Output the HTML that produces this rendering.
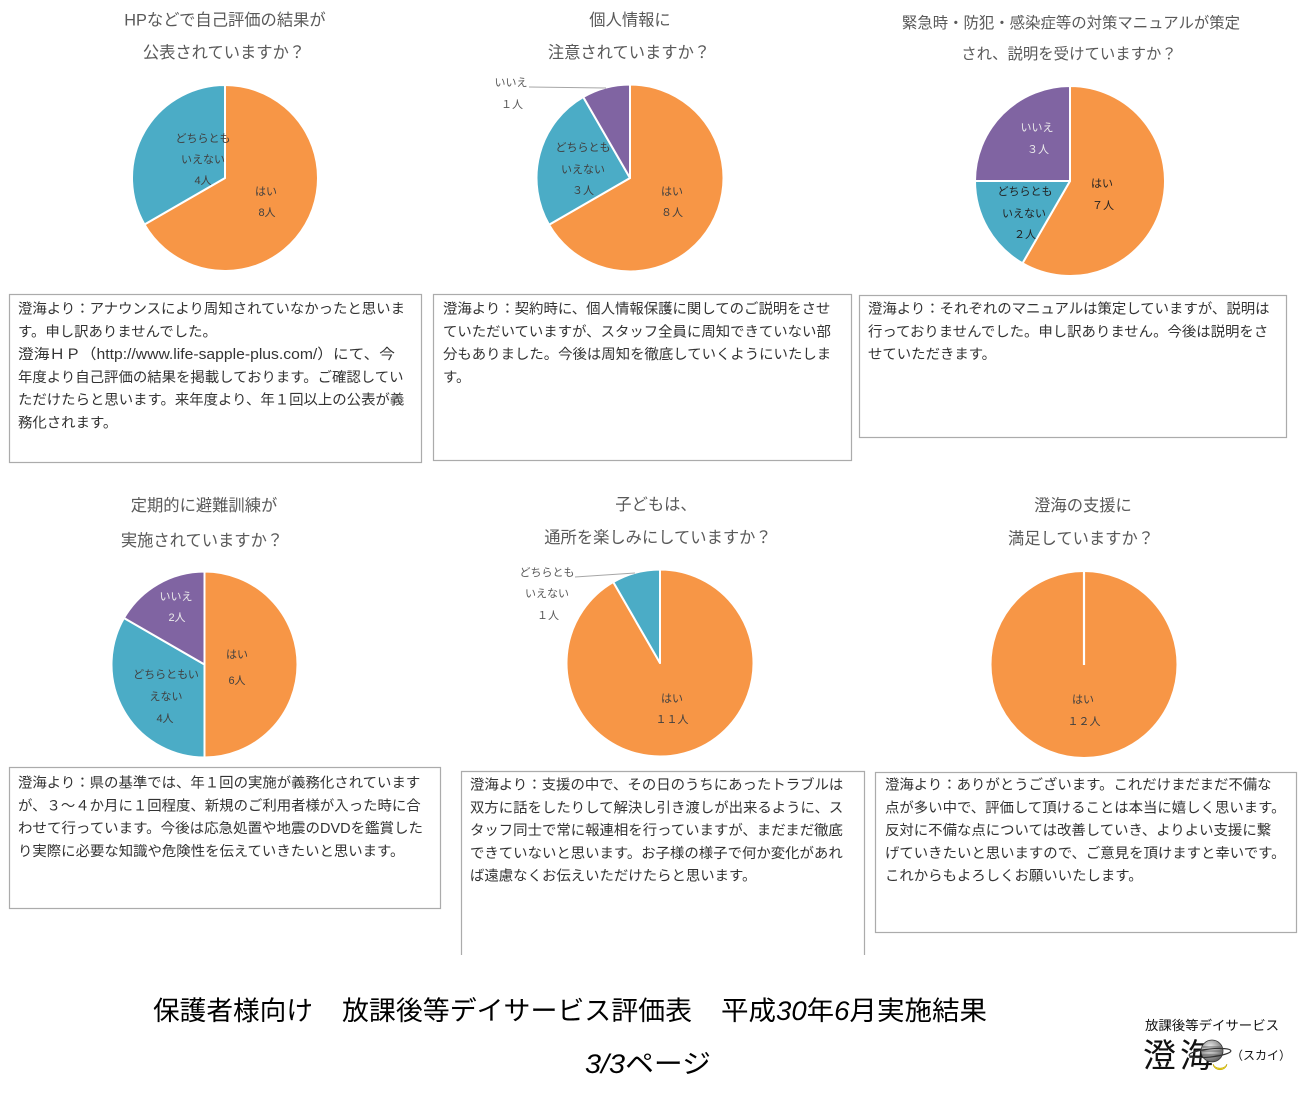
<!DOCTYPE html>
<html lang="ja">
<head>
<meta charset="utf-8">
<style>
  html,body{margin:0;padding:0;background:#fff;}
  svg{display:block;}
  text{font-family:"Liberation Sans","Noto Sans CJK JP",sans-serif;}
  .t{font-size:16.3px;fill:#595959;text-anchor:middle;}
  .t3{font-size:15.4px;fill:#595959;text-anchor:middle;}
  .lb{font-size:11px;fill:#404040;text-anchor:middle;}
  .lw{font-size:11px;fill:#ececec;text-anchor:middle;}
  .lo{font-size:11px;fill:#595959;text-anchor:middle;}
  .bx{font-size:14.4px;fill:#333;}
  .box{fill:none;stroke:#ababab;stroke-width:1.2;}
  .o{fill:#F79646;stroke:#fff;stroke-width:2;stroke-linejoin:round;}
  .b{fill:#4BACC6;stroke:#fff;stroke-width:2;stroke-linejoin:round;}
  .p{fill:#8064A2;stroke:#fff;stroke-width:2;stroke-linejoin:round;}
</style>
</head>
<body>
<svg width="1316" height="1100" viewBox="0 0 1316 1100" xmlns="http://www.w3.org/2000/svg">
  <rect width="1316" height="1100" fill="#fff"/>

  <!-- ===== Chart 1 ===== -->
  <text class="t" x="225" y="25.5">HPなどで自己評価の結果が</text>
  <text class="t" x="224" y="58">公表されていますか？</text>
  <path class="o" d="M225,178 L225,85 A93,93 0 1 1 144.46,224.5 Z"/>
  <path class="b" d="M225,178 L144.46,224.5 A93,93 0 0 1 225,85 Z"/>
  <text class="lb" x="203" y="142">どちらとも</text>
  <text class="lb" x="203" y="163">いえない</text>
  <text class="lb" x="203" y="184">4人</text>
  <text class="lb" x="266" y="195">はい</text>
  <text class="lb" x="267" y="216">8人</text>

  <rect class="box" x="9.5" y="294.5" width="412" height="168"/>
  <text class="bx" x="18" y="313.5">澄海より：アナウンスにより周知されていなかったと思いま</text>
  <text class="bx" x="18" y="336.3">す。申し訳ありませんでした。</text>
  <text class="bx" x="18" y="359.1" textLength="377" lengthAdjust="spacingAndGlyphs">澄海ＨＰ（http://www.life-sapple-plus.com/）にて、今</text>
  <text class="bx" x="18" y="381.9">年度より自己評価の結果を掲載しております。ご確認してい</text>
  <text class="bx" x="18" y="404.7">ただけたらと思います。来年度より、年１回以上の公表が義</text>
  <text class="bx" x="18" y="427.5">務化されます。</text>

  <!-- ===== Chart 2 ===== -->
  <text class="t" x="630" y="25.5">個人情報に</text>
  <text class="t" x="629" y="58">注意されていますか？</text>
  <path class="o" d="M630,178 L630,84.5 A93.5,93.5 0 1 1 549.03,224.75 Z"/>
  <path class="b" d="M630,178 L549.03,224.75 A93.5,93.5 0 0 1 583.25,97.03 Z"/>
  <path class="p" d="M630,178 L583.25,97.03 A93.5,93.5 0 0 1 630,84.5 Z"/>
  <line x1="529" y1="87" x2="606" y2="88" stroke="#a6a6a6" stroke-width="1"/>
  <text class="lo" x="511" y="86">いいえ</text>
  <text class="lo" x="512" y="108">１人</text>
  <text class="lb" x="583" y="151">どちらとも</text>
  <text class="lb" x="583" y="173">いえない</text>
  <text class="lb" x="583" y="194">３人</text>
  <text class="lb" x="672" y="195">はい</text>
  <text class="lb" x="672" y="216">８人</text>

  <rect class="box" x="433.5" y="294.5" width="418" height="166"/>
  <text class="bx" x="443" y="313.5">澄海より：契約時に、個人情報保護に関してのご説明をさせ</text>
  <text class="bx" x="443" y="336.3">ていただいていますが、スタッフ全員に周知できていない部</text>
  <text class="bx" x="443" y="359.1">分もありました。今後は周知を徹底していくようにいたしま</text>
  <text class="bx" x="443" y="381.9">す。</text>

  <!-- ===== Chart 3 ===== -->
  <text class="t3" x="1071" y="28">緊急時・防犯・感染症等の対策マニュアルが策定</text>
  <text class="t3" x="1069" y="59">され、説明を受けていますか？</text>
  <path class="o" d="M1070,181 L1070,86 A95,95 0 1 1 1022.5,263.27 Z"/>
  <path class="b" d="M1070,181 L1022.5,263.27 A95,95 0 0 1 975,181 Z"/>
  <path class="p" d="M1070,181 L975,181 A95,95 0 0 1 1070,86 Z"/>
  <text class="lw" x="1037" y="131">いいえ</text>
  <text class="lw" x="1038" y="153">３人</text>
  <text class="lb" x="1025" y="195" style="fill:#222">どちらとも</text>
  <text class="lb" x="1024" y="217" style="fill:#222">いえない</text>
  <text class="lb" x="1025" y="238" style="fill:#222">２人</text>
  <text class="lb" x="1102" y="187" style="fill:#222">はい</text>
  <text class="lb" x="1103" y="209" style="fill:#222">７人</text>

  <rect class="box" x="859.5" y="295.5" width="427" height="142"/>
  <text class="bx" x="868" y="313.5">澄海より：それぞれのマニュアルは策定していますが、説明は</text>
  <text class="bx" x="868" y="336.3">行っておりませんでした。申し訳ありません。今後は説明をさ</text>
  <text class="bx" x="868" y="359.1">せていただきます。</text>

  <!-- ===== Chart 4 ===== -->
  <text class="t" x="204" y="511">定期的に避難訓練が</text>
  <text class="t" x="202" y="546">実施されていますか？</text>
  <path class="o" d="M204.5,664.5 L204.5,571.5 A93,93 0 0 1 204.5,757.5 Z"/>
  <path class="b" d="M204.5,664.5 L204.5,757.5 A93,93 0 0 1 123.96,618 Z"/>
  <path class="p" d="M204.5,664.5 L123.96,618 A93,93 0 0 1 204.5,571.5 Z"/>
  <text class="lw" x="176" y="600">いいえ</text>
  <text class="lw" x="177" y="621">2人</text>
  <text class="lb" x="166" y="678">どちらともい</text>
  <text class="lb" x="166" y="700">えない</text>
  <text class="lb" x="165" y="722">4人</text>
  <text class="lb" x="237" y="658">はい</text>
  <text class="lb" x="237" y="684">6人</text>

  <rect class="box" x="9.5" y="767.5" width="431" height="141"/>
  <text class="bx" x="18" y="787.5">澄海より：県の基準では、年１回の実施が義務化されています</text>
  <text class="bx" x="18" y="810.3">が、３～４か月に１回程度、新規のご利用者様が入った時に合</text>
  <text class="bx" x="18" y="833.1" textLength="405" lengthAdjust="spacingAndGlyphs">わせて行っています。今後は応急処置や地震のDVDを鑑賞した</text>
  <text class="bx" x="18" y="855.9">り実際に必要な知識や危険性を伝えていきたいと思います。</text>

  <!-- ===== Chart 5 ===== -->
  <text class="t" x="656" y="510">子どもは、</text>
  <text class="t" x="658" y="543">通所を楽しみにしていますか？</text>
  <path class="o" d="M660,663 L660,569.5 A93.5,93.5 0 1 1 613.25,582.03 Z"/>
  <path class="b" d="M660,663 L613.25,582.03 A93.5,93.5 0 0 1 660,569.5 Z"/>
  <line x1="575" y1="577" x2="635" y2="573" stroke="#a6a6a6" stroke-width="1"/>
  <text class="lo" x="547" y="576">どちらとも</text>
  <text class="lo" x="547" y="597">いえない</text>
  <text class="lo" x="548" y="619">１人</text>
  <text class="lb" x="672" y="702">はい</text>
  <text class="lb" x="672" y="723">１１人</text>

  <path class="box" d="M461.5,955 L461.5,771.5 L864.5,771.5 L864.5,955"/>
  <text class="bx" x="470" y="789.5">澄海より：支援の中で、その日のうちにあったトラブルは</text>
  <text class="bx" x="470" y="812.3">双方に話をしたりして解決し引き渡しが出来るように、ス</text>
  <text class="bx" x="470" y="835.1">タッフ同士で常に報連相を行っていますが、まだまだ徹底</text>
  <text class="bx" x="470" y="857.9">できていないと思います。お子様の様子で何か変化があれ</text>
  <text class="bx" x="470" y="880.7">ば遠慮なくお伝えいただけたらと思います。</text>

  <!-- ===== Chart 6 ===== -->
  <text class="t" x="1083" y="511">澄海の支援に</text>
  <text class="t" x="1081" y="544">満足していますか？</text>
  <circle cx="1084" cy="664.5" r="93" fill="#F79646" stroke="#fff" stroke-width="1"/>
  <line x1="1084" y1="571.5" x2="1084" y2="665" stroke="#fff" stroke-width="2.2"/>
  <text class="lb" x="1083" y="703">はい</text>
  <text class="lb" x="1084" y="725">１２人</text>

  <rect class="box" x="875.5" y="772.5" width="421" height="160"/>
  <text class="bx" x="885" y="789.5">澄海より：ありがとうございます。これだけまだまだ不備な</text>
  <text class="bx" x="885" y="812.3">点が多い中で、評価して頂けることは本当に嬉しく思います。</text>
  <text class="bx" x="885" y="835.1">反対に不備な点については改善していき、よりよい支援に繋</text>
  <text class="bx" x="885" y="857.9">げていきたいと思いますので、ご意見を頂けますと幸いです。</text>
  <text class="bx" x="885" y="880.7">これからもよろしくお願いいたします。</text>

  <!-- ===== Footer ===== -->
  <g style="font-size:26.5px;fill:#000;">
    <text x="153" y="1020" textLength="160" lengthAdjust="spacingAndGlyphs">保護者様向け</text>
    <text x="342" y="1020" textLength="350" lengthAdjust="spacingAndGlyphs">放課後等デイサービス評価表</text>
    <text x="721" y="1020" textLength="266" lengthAdjust="spacingAndGlyphs">平成<tspan font-style="italic">30</tspan>年<tspan font-style="italic">6</tspan>月実施結果</text>
    <text x="585" y="1073" textLength="126" lengthAdjust="spacingAndGlyphs"><tspan font-style="italic">3/3</tspan>ページ</text>
  </g>

  <!-- ===== Logo ===== -->
  <text x="1145" y="1030" style="font-size:13.2px;fill:#111;" textLength="134" lengthAdjust="spacingAndGlyphs">放課後等デイサービス</text>
  <text x="1143" y="1067" style="font-size:33px;fill:#111;">澄</text>
  <text x="1180" y="1067" style="font-size:33px;fill:#111;">海</text>
  <g>
    <defs>
      <radialGradient id="pl" cx="40%" cy="35%" r="70%">
        <stop offset="0" stop-color="#f2f2f2"/>
        <stop offset="0.6" stop-color="#9a9a9a"/>
        <stop offset="1" stop-color="#555"/>
      </radialGradient>
    </defs>
    <circle cx="1212" cy="1051" r="11" fill="url(#pl)" stroke="#333" stroke-width="0.8"/>
    <line x1="1202" y1="1047" x2="1222" y2="1047" stroke="#666" stroke-width="1"/>
    <line x1="1201" y1="1051" x2="1223" y2="1051" stroke="#666" stroke-width="1"/>
    <line x1="1202" y1="1055" x2="1222" y2="1055" stroke="#666" stroke-width="1"/>
    <ellipse cx="1210" cy="1053" rx="21" ry="4" fill="none" stroke="#333" stroke-width="1.2" transform="rotate(-6 1210 1053)"/>
    <path d="M1213,1064 A8,8 0 0 0 1227,1064 A6,5 0 0 1 1213,1064 Z" fill="#e8d020" stroke="#b8a000" stroke-width="0.5"/>
  </g>
  <text x="1231" y="1059.5" style="font-size:12px;fill:#111;">（スカイ）</text>
</svg>
</body>
</html>
